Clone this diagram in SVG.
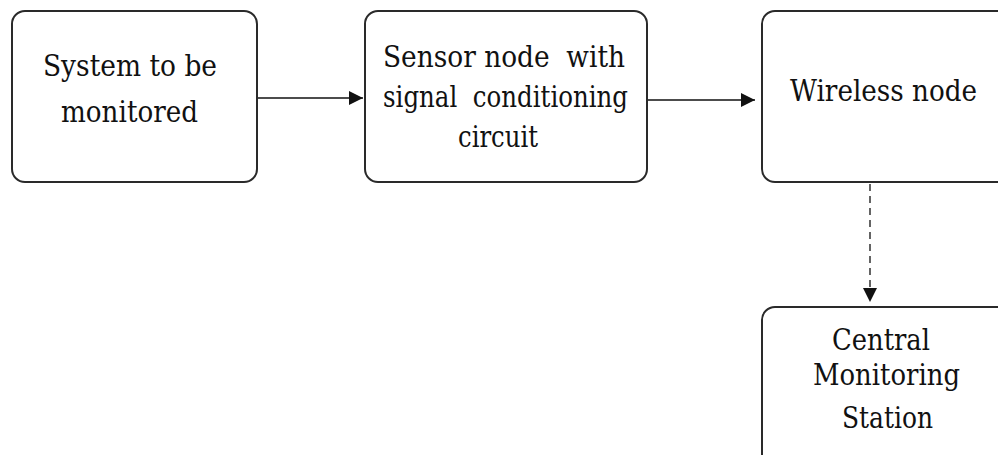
<svg xmlns="http://www.w3.org/2000/svg" width="998" height="455" viewBox="0 0 998 455">
<style>
.box{fill:#fff;stroke:#2a2a2a;stroke-width:2}
.t{font-family:"DejaVu Serif","Liberation Serif",serif;font-size:30px;fill:#111}
.c{stroke:#111;stroke-width:1.3;fill:none}
</style>
<defs>
<marker id="ah" viewBox="0 0 10 10" refX="10" refY="5" markerWidth="15" markerHeight="14" markerUnits="userSpaceOnUse" orient="auto">
<path d="M0,0 L10,5 L0,10 z" fill="#111"/>
</marker>
</defs>
<rect width="998" height="455" fill="#fff"/>
<g id="connectors">
<line class="c" x1="257" y1="98" x2="363" y2="98" marker-end="url(#ah)"/>
<line class="c" x1="647" y1="100" x2="755" y2="100" marker-end="url(#ah)"/>
<line class="c" x1="870" y1="184" x2="870" y2="302" stroke-dasharray="7,5" marker-end="url(#ah)"/>
</g>
<g id="node-system">
<rect class="box" x="12" y="11" width="245" height="171" rx="13"/>
<text class="t" x="43" y="76" textLength="174" lengthAdjust="spacingAndGlyphs">System to be</text>
<text class="t" x="61" y="122" textLength="137" lengthAdjust="spacingAndGlyphs">monitored</text>
</g>
<g id="node-sensor">
<rect class="box" x="365" y="11" width="282" height="171" rx="13"/>
<text class="t" x="383" y="67" textLength="242" lengthAdjust="spacingAndGlyphs" xml:space="preserve">Sensor node  with</text>
<text class="t" x="383" y="107" textLength="245" lengthAdjust="spacingAndGlyphs" xml:space="preserve">signal  conditioning</text>
<text class="t" x="458" y="147" textLength="80" lengthAdjust="spacingAndGlyphs">circuit</text>
</g>
<g id="node-wireless">
<rect class="box" x="762" y="11" width="260" height="171" rx="13"/>
<text class="t" x="790" y="101" textLength="187" lengthAdjust="spacingAndGlyphs">Wireless node</text>
</g>
<g id="node-central">
<rect class="box" x="762" y="307" width="260" height="170" rx="13"/>
<text class="t" x="832" y="350" textLength="98" lengthAdjust="spacingAndGlyphs">Central</text>
<text class="t" x="813" y="385" textLength="147" lengthAdjust="spacingAndGlyphs">Monitoring</text>
<text class="t" x="842" y="428" textLength="91" lengthAdjust="spacingAndGlyphs">Station</text>
</g>
</svg>
